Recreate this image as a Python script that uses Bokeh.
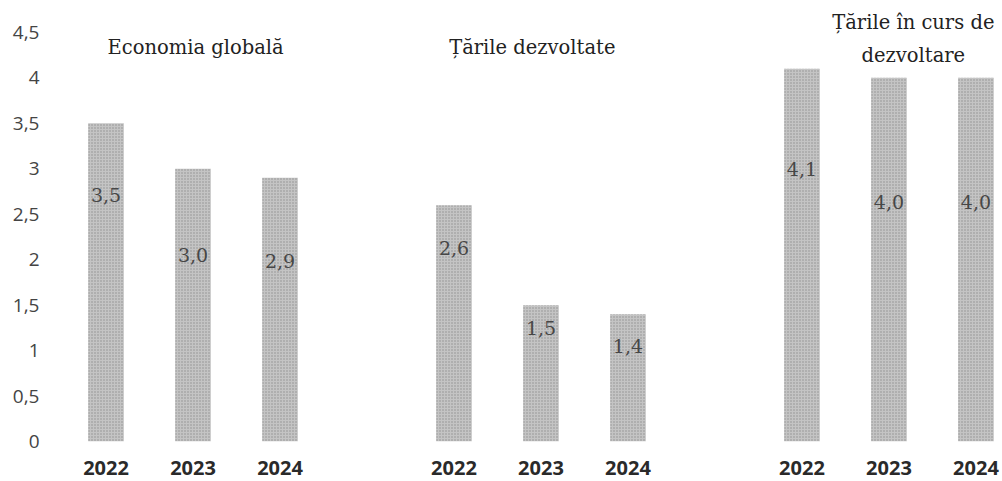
from bokeh.plotting import figure
from bokeh.models import Range1d, FixedTicker, CustomJSTickFormatter, ColumnDataSource
from bokeh.core.properties import value
from bokeh.embed import file_html
from bokeh.resources import INLINE

# ---- data ----
groups = ["Economia globală", "Țările dezvoltate", "Țările în curs de dezvoltare"]
years = ["2022", "2023", "2024"]
economia_globala = [3.5, 3.0, 2.9]
tarile_dezvoltate = [2.6, 1.5, 1.4]
tarile_in_curs_de_dezvoltare = [4.1, 4.0, 4.0]
y_ticks = [0, 0.5, 1, 1.5, 2, 2.5, 3, 3.5, 4, 4.5]

# ---- layout constants (heights of the in-bar value labels, in data units) ----
label_heights = [2.71, 2.05, 1.99, 2.13, 1.25, 1.05, 3.00, 2.63, 2.63]

series = [economia_globala, tarile_dezvoltate, tarile_in_curs_de_dezvoltare]
xs, tops, texts, years_col = [], [], [], []
for g, vals in enumerate(series):
    for j, v in enumerate(vals):
        xs.append(g * 4 + j)
        tops.append(v)
        texts.append(f"{v:.1f}".replace(".", ","))
        years_col.append(years[j])

src = ColumnDataSource(dict(x=xs, top=tops, text=texts, ly=label_heights))

p = figure(width=1002, height=481,
           x_range=Range1d(-0.661, 10.305), y_range=Range1d(0, 4.851),
           output_backend="svg", toolbar_location=None,
           min_border_left=48, min_border_right=0, min_border_top=0, min_border_bottom=40)
p.outline_line_color = None
p.grid.visible = False
p.background_fill_color = "white"
p.border_fill_color = "white"

p.vbar(x="x", top="top", width=0.41, source=src,
       fill_color="#c4c4c4", line_color=None,
       hatch_pattern="dot", hatch_color="#555555", hatch_scale=3, hatch_weight=1, hatch_alpha=0.5)

p.text(x="x", y="ly", text="text", source=src,
       text_align="center", text_baseline="middle",
       text_font=value("DejaVu Serif"), text_font_size="19px", text_color="#474747")

# group titles
title_font = dict(text_align="center", text_baseline="middle",
                  text_font=value("DejaVu Serif"), text_font_size="19.5px", text_color="#222222")
p.text(x=[1.03], y=[4.334], text=[groups[0]], **title_font)
p.text(x=[4.90], y=[4.334], text=[groups[1]], **title_font)
p.text(x=[9.28, 9.28], y=[4.61, 4.246], text=["Țările în curs de", "dezvoltare"], **title_font)

# y axis
ya = p.yaxis[0]
ya.ticker = FixedTicker(ticks=y_ticks)
ya.formatter = CustomJSTickFormatter(code="return tick.toString().replace('.', ',');")
ya.axis_line_color = None
ya.major_tick_line_color = None
ya.minor_tick_line_color = None
ya.major_tick_in = 0
ya.major_tick_out = 0
ya.major_label_standoff = 9
ya.major_label_text_font = "Open Sans"
ya.major_label_text_font_size = "19px"
ya.major_label_text_color = "#444444"

# x axis
xa = p.xaxis[0]
xa.ticker = FixedTicker(ticks=xs)
xa.major_label_overrides = {x: y for x, y in zip(xs, years_col)}
xa.axis_line_color = None
xa.major_tick_line_color = None
xa.minor_tick_line_color = None
xa.major_tick_in = 0
xa.major_tick_out = 0
xa.major_label_standoff = 19
xa.major_label_text_font = "Open Sans"
xa.major_label_text_font_size = "20px"
xa.major_label_text_font_style = "bold"
xa.major_label_text_color = "#2a2a2a"

open("out.html", "w").write(file_html(p, INLINE))
